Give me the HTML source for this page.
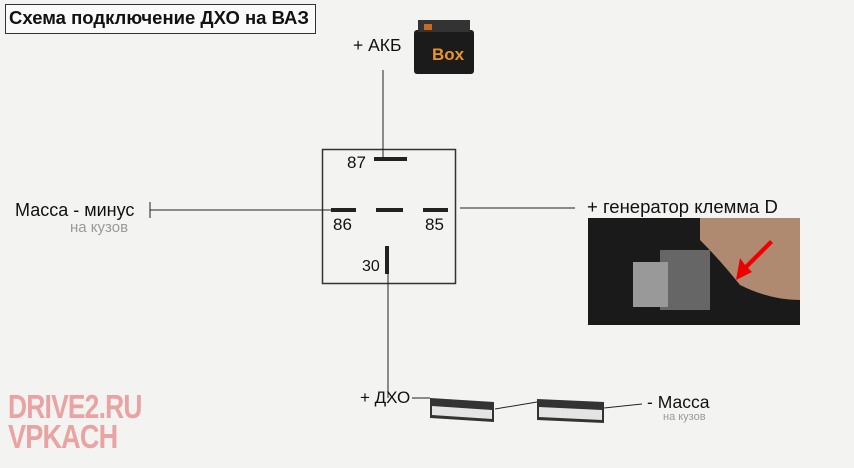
<!DOCTYPE html>
<html><head><meta charset="utf-8"><style>
body{margin:0;width:854px;height:468px;background:#f3f3f1;position:relative;overflow:hidden;font-family:"Liberation Sans","DejaVu Sans",sans-serif;}
.t{position:absolute;white-space:nowrap;color:#111;}
</style></head><body>
<svg width="854" height="468" style="position:absolute;left:0;top:0">
<rect x="5.5" y="4.5" width="310" height="29" fill="#fafafa" stroke="#333"/>
<rect x="414" y="30" width="60" height="44" rx="3" fill="#1b1b1b"/>
<rect x="418" y="20" width="52" height="12" fill="#333"/>
<rect x="424" y="24" width="8" height="6" fill="#c86a20"/>
<text x="432" y="60" font-family="Liberation Sans" font-weight="bold" font-size="17" fill="#e8962a">Box</text>
<rect x="322.5" y="149.5" width="133" height="134" fill="none" stroke="#333" stroke-width="1.5"/>
<line x1="383" y1="70" x2="383" y2="158" stroke="#222"/>
<rect x="374" y="157" width="33" height="4" fill="#222"/>
<rect x="331" y="208" width="25" height="4" fill="#222"/>
<rect x="376" y="208" width="27" height="4" fill="#222"/>
<rect x="423" y="208" width="25" height="4" fill="#222"/>
<rect x="385" y="246" width="4" height="28" fill="#222"/>
<line x1="388" y1="274" x2="388" y2="398" stroke="#222"/>
<line x1="150" y1="210" x2="331" y2="210" stroke="#222"/>
<line x1="150" y1="202" x2="150" y2="218" stroke="#222"/>
<line x1="460" y1="208" x2="575" y2="208" stroke="#222"/>
<rect x="588" y="218" width="212" height="107" fill="#1a1a1a"/>
<path d="M700 218 L800 218 L800 300 Q770 300 740 285 Q720 260 700 240Z" fill="#b08a70"/>
<rect x="660" y="250" width="50" height="60" fill="#666"/>
<rect x="633" y="262" width="35" height="45" fill="#999"/>
<path d="M770 240 L745 265 L740 258 L736 280 L752 272 L748 268 L773 243Z" fill="#e00"/>
<line x1="412" y1="398" x2="430" y2="398" stroke="#222"/>
<line x1="495" y1="409" x2="537" y2="402" stroke="#222"/>
<line x1="604" y1="408" x2="642" y2="404" stroke="#222"/>
<g>
<polygon points="430,398 494,402 494,422 430,418" fill="#333"/>
<polygon points="432,406 492,410 492,419 432,415" fill="#e4e4e4"/>
<polygon points="537,399 604,402 604,423 537,420" fill="#333"/>
<polygon points="539,407 602,410 602,420 539,417" fill="#e4e4e4"/>
</g>
</svg>
<div class="t" style="left:9px;top:7px;font-size:18.5px;font-weight:bold;">Схема подключение ДХО на ВАЗ</div>
<div class="t" style="left:353px;top:35px;font-size:17.5px;">+ АКБ</div>
<div class="t" style="left:347px;top:153px;font-size:17px;">87</div>
<div class="t" style="left:333px;top:215px;font-size:17px;">86</div>
<div class="t" style="left:425px;top:215px;font-size:17px;">85</div>
<div class="t" style="left:362px;top:258px;font-size:16px;">30</div>
<div class="t" style="left:15px;top:200px;font-size:18px;">Масса - минус</div>
<div class="t" style="left:70px;top:219px;font-size:15px;color:#999;">на кузов</div>
<div class="t" style="left:587px;top:196px;font-size:18.5px;">+ генератор клемма D</div>
<div class="t" style="left:360px;top:388px;font-size:17px;">+ ДХО</div>
<div class="t" style="left:647px;top:392px;font-size:17.5px;">- Масса</div>
<div class="t" style="left:663px;top:411px;font-size:11px;color:#999;">на кузов</div>
<div class="t" style="left:8px;top:388px;font-size:33px;font-weight:bold;color:#eaa3a3;letter-spacing:-1px;transform:scaleX(0.8);transform-origin:left;">DRIVE2.RU</div>
<div class="t" style="left:8px;top:418px;font-size:33px;font-weight:bold;color:#eaa3a3;letter-spacing:-1px;transform:scaleX(0.82);transform-origin:left;">VPKACH</div>
</body></html>
